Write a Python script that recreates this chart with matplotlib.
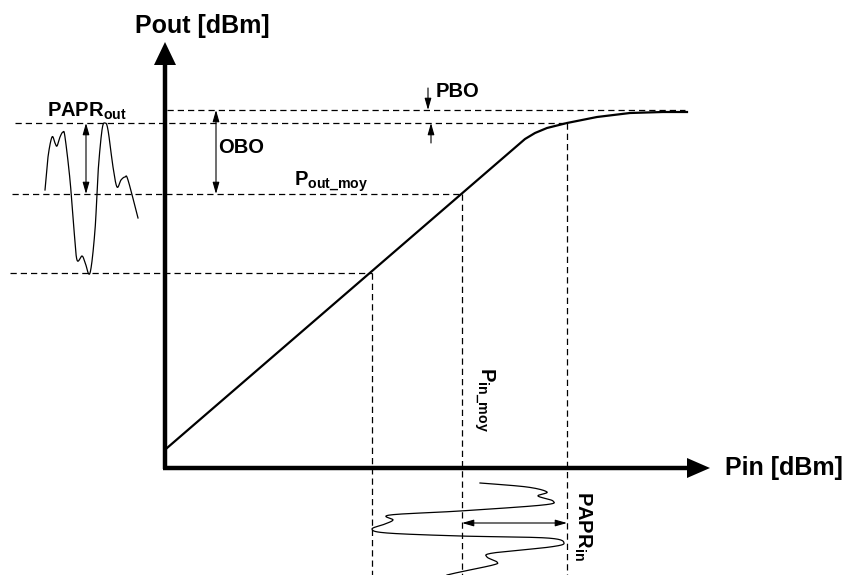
import numpy as np
import matplotlib
matplotlib.use('Agg')
import matplotlib.pyplot as plt
from matplotlib.patches import Polygon

plt.rcParams['font.family'] = ['Liberation Sans', 'DejaVu Sans']
plt.rcParams['mathtext.fontset'] = 'custom'
plt.rcParams['mathtext.rm'] = 'Liberation Sans'
plt.rcParams['mathtext.bf'] = 'Liberation Sans:bold'
plt.rcParams['mathtext.it'] = 'Liberation Sans:italic'

# ---------------- data (diagram units, y grows downward) ----------------
# AM/AM transfer curve Pout(Pin)
curve_x = [167, 525, 535, 547, 567, 597, 630, 663, 687]
curve_y = [448, 139, 133, 128, 123, 117, 113, 112, 112]

# characteristic levels
pin_levels = [372, 462, 567]          # Pin min, Pin moy, Pin peak
pout_levels = [273, 194, 123, 110]    # Pout min, Pout moy, Pout peak, Psat

# output signal (time -> horizontal, amplitude -> vertical)
out_wave_x = [45, 48, 52, 55, 57, 60, 63, 65, 70, 74, 77, 82, 85, 90, 95,
              98, 102, 105, 108, 113, 117, 121, 125, 128, 138]
out_wave_y = [190, 157, 137, 143, 146, 137, 132, 137, 180, 230, 260, 256,
              262, 273, 230, 173, 130, 123, 130, 167, 187, 180, 177, 180, 218]

# input signal (time -> vertical, amplitude -> horizontal)
in_wave_x = [480, 527, 547, 538, 553, 543, 460, 390, 393, 385, 372, 387,
             460, 547, 564, 550, 493, 487, 497, 493, 460, 447]
in_wave_y = [483, 487, 492, 496, 501, 505, 511, 515, 520, 524, 529, 533,
             536, 538, 543, 547, 553, 557, 562, 565, 572, 575]

# axes geometry
origin = (165, 468)
y_axis_tip = 42
x_axis_tip = 710


def catmull(xs, ys, n=24):
    P = np.column_stack([xs, ys]).astype(float)
    P = np.vstack([P[0], P, P[-1]])
    out = []
    t = np.linspace(0, 1, n, endpoint=False)[:, None]
    for i in range(1, len(P) - 2):
        p0, p1, p2, p3 = P[i - 1], P[i], P[i + 1], P[i + 2]
        out.append(0.5 * ((2 * p1) + (-p0 + p2) * t
                          + (2 * p0 - 5 * p1 + 4 * p2 - p3) * t ** 2
                          + (-p0 + 3 * p1 - 3 * p2 + p3) * t ** 3))
    out.append(P[-2][None])
    return np.vstack(out)


fig = plt.figure(figsize=(8.48, 5.75), dpi=100)
ax = fig.add_axes([0, 0, 1, 1])
ax.set_xlim(0, 848)
ax.set_ylim(575, 0)
ax.axis('off')

dash = dict(color='black', lw=0.9, ls=(0, (5, 3.2)))

# horizontal dashed levels
ax.plot([167, 685], [pout_levels[3]] * 2, **dash)
ax.plot([15, pin_levels[2]], [pout_levels[2]] * 2, **dash)
ax.plot([12, pin_levels[1]], [pout_levels[1]] * 2, **dash)
ax.plot([10, pin_levels[0]], [pout_levels[0]] * 2, **dash)
# vertical dashed levels
ax.plot([pin_levels[0]] * 2, [pout_levels[0], 575], **dash)
ax.plot([pin_levels[1]] * 2, [pout_levels[1], 575], **dash)
ax.plot([pin_levels[2]] * 2, [pout_levels[2], 575], **dash)

# axes
ax.plot([origin[0], origin[0]], [origin[1] + 1, y_axis_tip + 15], color='black', lw=3.2,
        solid_capstyle='butt')
ax.plot([origin[0] - 2, x_axis_tip - 15], [origin[1], origin[1]], color='black', lw=3.2,
        solid_capstyle='butt')
ax.add_patch(Polygon([[origin[0], y_axis_tip], [origin[0] - 11, y_axis_tip + 23],
                      [origin[0] + 11, y_axis_tip + 23]], closed=True,
                     color='black', lw=0))
ax.add_patch(Polygon([[x_axis_tip, origin[1]], [x_axis_tip - 23, origin[1] - 10],
                      [x_axis_tip - 23, origin[1] + 10]], closed=True,
                     color='black', lw=0))

# transfer curve
ax.plot(curve_x, curve_y, color='black', lw=1.6, solid_joinstyle='round')

# signals
ow = catmull(out_wave_x, out_wave_y)
ax.plot(ow[:, 0], ow[:, 1], color='black', lw=0.9)
iw = catmull(in_wave_x, in_wave_y)
ax.plot(iw[:, 0], iw[:, 1], color='black', lw=0.9)

# small arrows
small = dict(arrowstyle='<|-|>,head_length=0.7,head_width=0.2',
             color='black', lw=0.8, shrinkA=0, shrinkB=0, mutation_scale=10)
single = dict(arrowstyle='-|>,head_length=0.7,head_width=0.2',
              color='black', lw=0.8, shrinkA=0, shrinkB=0, mutation_scale=10)
ax.annotate('', xy=(86, pout_levels[2]), xytext=(86, pout_levels[1]), arrowprops=small)
ax.annotate('', xy=(216, pout_levels[3]), xytext=(216, pout_levels[1]), arrowprops=small)
ax.annotate('', xy=(pin_levels[1], 523), xytext=(pin_levels[2], 523), arrowprops=small)
ax.annotate('', xy=(428, pout_levels[3]), xytext=(428, 88), arrowprops=single)
ax.annotate('', xy=(431, pout_levels[2]), xytext=(431, 143), arrowprops=single)

# labels
bold = dict(fontweight='bold', color='black')
ax.text(202, 33, 'Pout [dBm]', fontsize=18, ha='center', va='baseline', **bold)
ax.text(725, 475, 'Pin [dBm]', fontsize=18, ha='left', va='baseline', **bold)
ax.text(47, 117, r'$\mathbf{PAPR_{out}}$', fontsize=14.5, ha='left', va='baseline')
ax.text(218, 153, 'OBO', fontsize=14.5, ha='left', va='baseline', **bold)
ax.text(436, 97, 'PBO', fontsize=14.5, ha='left', va='baseline', **bold)
ax.text(294, 186, r'$\mathbf{P_{out\_moy}}$', fontsize=14.5, ha='left', va='baseline')
ax.text(472, 367, r'$\mathbf{P_{in\_moy}}$', fontsize=14.5, rotation=-90,
        ha='left', va='top', rotation_mode='default')
ax.text(572, 491, r'$\mathbf{PAPR_{in}}$', fontsize=14.5, rotation=-90,
        ha='left', va='top', rotation_mode='default')

fig.savefig('out.png', dpi=100)
